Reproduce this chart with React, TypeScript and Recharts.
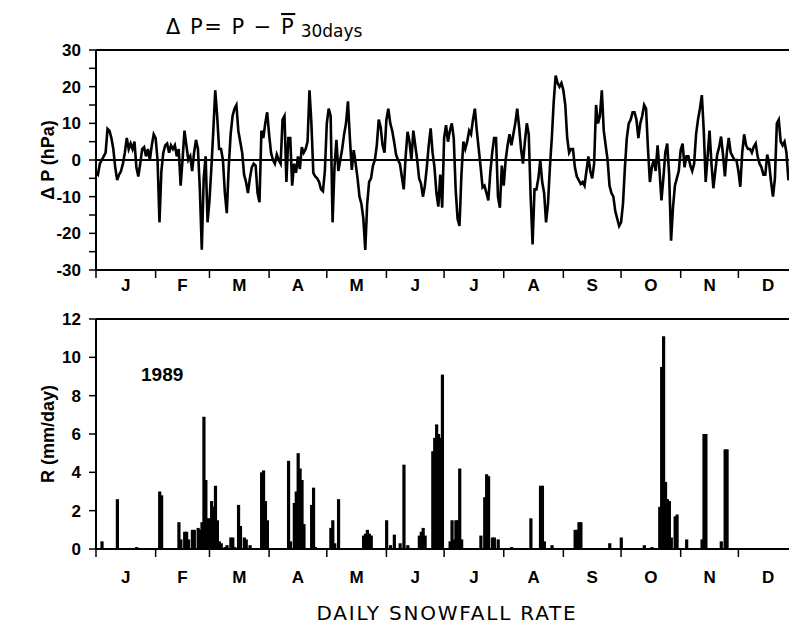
import { Bar, ComposedChart, Line, ReferenceLine, XAxis, YAxis } from "recharts";

// Calendar of 1989: first day (0-based) of each month, plus the year end
const MONTH_STARTS = [0, 31, 59, 90, 120, 151, 181, 212, 243, 273, 304, 334, 365];
const MONTH_LETTERS = ["J", "F", "M", "A", "M", "J", "J", "A", "S", "O", "N", "D"];
const MONTH_MIDS = MONTH_LETTERS.map((_, i) => (MONTH_STARTS[i] + MONTH_STARTS[i + 1]) / 2);
const MONTH_TICKS = [...MONTH_STARTS, ...MONTH_MIDS].sort((a, b) => a - b);

const DP_TICKS = [-30, -25, -20, -15, -10, -5, 0, 5, 10, 15, 20, 25, 30];
const RATE_TICKS = [0, 2, 4, 6, 8, 10, 12];

// Daily surface pressure anomaly from the 30-day running mean (hPa), from Jan 1
const DP = [
  -3.5, -4, -1, 0, 1, 2, 8.5, 8, 6, 3,
  -2, -5.5, -4, -3, -1, 2, 6, 3, 4.5, 3,
  5, -2, -4.5, -1, 3, 3.5, 1, 3, 0, 4,
  7, 6, 0, -17, -3, 2, 4, 4.5, 2, 4,
  3, 4, 1, 3, -7, 0, 8, 4, 0, 1,
  -3, 2, 5.5, 3, -8, -24.5, -5, 1, -17, -11,
  -2, 8, 19, 12, 3, 3, 0, -9, -14.5, -2,
  7, 12, 14, 15, 8, 5, 2, -4, -6, -9,
  -5, -2, -1, -1.5, -9, -11.5, 8, 6, 10, 13,
  7, 2, 0, -1, 1.5, 0, -1, 11, 12, -6,
  6, 6, -7, -1, -3.5, 1, -2.5, 3.5, 2, 3,
  5, 19, 10, -3.5, -4.5, -5, -6, -8, -8.5, -3,
  10, 14, 12, -17, -2, 5.5, -3, 0, 3, 7,
  10, 16, 6, -2.7, 2.7, -1, -5, -10, -12, -16,
  -24.5, -12, -6, -5, -1.5, 0, 4, 11, 9, 4,
  2, 11, 14, 10, 8, 5, 1.5, 0, -1, -4.5,
  -8, 1, 7.7, 5, 0, 8, 4, 0, -5, -6.5,
  -10, -7, -2, 4, 8.6, 2, -2, -9, -12.7, -4,
  -13, 6, 9.5, 5, 8, 10, 6, -8, -16, -18,
  -4, 5, 3, 5, 8, 7, 11, 14, 8, 3,
  -2, -7.5, -7, -9, -11, -3.5, 2, 6, 6, -10,
  -13, -1.5, -7, 0, 4, 7, 4, 7, 10, 14,
  9, 3, -1, 5, 10, 7, -10, -23, -8, -8,
  -5, 0, -6, -9, -17, -12, -2, 6, 16, 23,
  21, 20, 21, 19, 15, 6, 2, 3, 3, -2,
  -4.5, -5.5, -6.5, -6, -7, -3, 1, -3, -5, -1,
  15, 10, 12, 19, 8, 4, 0, -7, -9, -10,
  -14, -16, -18, -17, -12, -2, 6, 10, 11, 13,
  13, 11, 6, 10, 12, 15, 14, 3, -6, -2,
  0, -3, 4, -3, -11, -5, 2, 4.5, -4, -22,
  -13, -7, -5, -3, 2.7, 4.5, -2, 1, 1, -1.5,
  -3, -1, 7, 11, 14, 17.7, 8, -6, 1, 8,
  -1, -7.7, -3, 1.5, 3.5, 6.4, 1.5, -4.5, 2, 6,
  2, 1, 0, 0, -3, -7.3, 2, 7, 4, 3,
  3, 2, 3.6, 4.5, 1, -1, -2, -4, -4, 1.5,
  -1, -6, -10, -5, 10, 11, 5, 4, 5, 2,
  -5.5, -3,
];

// Days with snowfall (0-based day of year) and the rate on that day (mm/day)
const SNOW_DAYS = [
  3, 11, 21, 33, 34, 43, 44, 46, 47, 48, 50, 51, 53, 54, 55, 56, 57, 58, 59, 60,
  61, 62, 63, 64, 65, 67, 68, 70, 71, 72, 74, 75, 77, 78, 80, 86, 87, 88, 89, 100,
  101, 103, 104, 105, 106, 107, 108, 112, 113, 114, 122, 123, 124, 126, 139, 140, 141, 142, 143, 151,
  153, 155, 158, 160, 162, 168, 169, 170, 171, 175, 176, 177, 178, 179, 180, 184, 185, 186, 187, 188,
  189, 190, 200, 202, 203, 204, 206, 207, 209, 216, 226, 231, 232, 233, 237, 249, 250, 251, 252, 267,
  273, 285, 289, 293, 294, 295, 296, 297, 298, 299, 301, 302, 307, 315, 316, 317, 325, 327, 328,
];
const SNOW_RATES = [
  0.4, 2.6, 0.1, 3.0, 2.8, 1.4, 0.5, 0.9, 0.9, 0.5, 1.0, 1.0, 1.1, 1.0, 1.4, 6.9, 3.6, 1.6, 1.6, 2.5,
  2.2, 3.3, 1.5, 0.4, 0.3, 0.1, 0.2, 0.6, 0.6, 0.1, 2.3, 1.2, 0.6, 0.5, 0.2, 4.0, 4.1, 2.5, 1.5, 4.6,
  0.4, 2.4, 3.0, 5.0, 4.2, 3.6, 1.3, 2.3, 3.2, 0.1, 1.1, 1.5, 0.3, 2.6, 0.7, 0.8, 1.0, 0.8, 0.7, 1.5,
  0.2, 0.75, 0.3, 4.4, 0.2, 0.7, 0.9, 1.1, 0.7, 5.1, 5.8, 6.5, 6.0, 5.8, 9.1, 0.4, 1.5, 0.5, 1.5, 1.5,
  4.2, 0.5, 0.7, 2.7, 3.9, 3.8, 0.6, 0.6, 0.5, 0.1, 1.6, 3.3, 3.3, 0.4, 0.2, 1.0, 1.0, 1.4, 1.4, 0.3,
  0.6, 0.2, 0.1, 2.2, 9.5, 11.1, 3.5, 2.6, 2.5, 0.6, 1.7, 1.8, 0.5, 0.5, 6.0, 6.0, 0.4, 5.2, 5.2,
];

const dpData = DP.map((dp, day) => ({ day, dp }));
const snowData = SNOW_DAYS.map((day, i) => ({ day, rate: SNOW_RATES[i] }));

const FONT = "'Liberation Sans', Arial, sans-serif";
const THIN_FONT = "'DejaVu Sans', 'Noto Sans', sans-serif";
const tickStyle = { fill: "#000", fontSize: 17, fontWeight: 700, fontFamily: FONT };
const axisStroke = { stroke: "#000", strokeWidth: 2 };

// Month axis: short ticks on month boundaries, letters centred in each month
function MonthTick({ x, y, payload, gap }: any) {
  const i = MONTH_MIDS.indexOf(payload.value);
  if (i >= 0) {
    return (
      <text x={x} y={y + gap} textAnchor="middle" {...tickStyle}>
        {MONTH_LETTERS[i]}
      </text>
    );
  }
  return <line x1={x} x2={x} y1={y} y2={y + 8} stroke="#000" strokeWidth={1.5} />;
}

// Snowfall bars are a little wider than one day's slot
function SnowBar({ x, y, width, height }: any) {
  if (!height || height <= 0) return null;
  return <rect x={x + width / 2 - 1.6} y={y} width={3.2} height={height} fill="#000" />;
}

function PressurePanel() {
  return (
    <ComposedChart width={800} height={300} data={dpData} margin={{ top: 50, right: 2, bottom: 0, left: 0 }}>
      <XAxis
        dataKey="day"
        type="number"
        domain={[0, 365]}
        ticks={MONTH_TICKS}
        interval={0}
        height={30}
        tickLine={false}
        tickSize={0}
        tickMargin={0}
        axisLine={axisStroke}
        tick={(p: any) => <MonthTick {...p} gap={21} />}
      />
      <YAxis
        type="number"
        domain={[-30, 30]}
        ticks={DP_TICKS}
        interval={0}
        width={96}
        tickSize={7}
        tickMargin={8}
        axisLine={axisStroke}
        tickLine={{ stroke: "#000", strokeWidth: 1.5 }}
        tick={tickStyle}
        tickFormatter={(v: number) => (v % 10 === 0 ? String(v) : "")}
      />
      <ReferenceLine y={30} stroke="#000" strokeWidth={2} />
      <ReferenceLine x={365} stroke="#000" strokeWidth={2} />
      <ReferenceLine y={0} stroke="#000" strokeWidth={2} />
      <Line
        dataKey="dp"
        type="linear"
        stroke="#000"
        strokeWidth={2.6}
        dot={false}
        isAnimationActive={false}
      />
    </ComposedChart>
  );
}

function SnowPanel() {
  return (
    <ComposedChart width={800} height={290} data={snowData} margin={{ top: 19, right: 2, bottom: 0, left: 0 }}>
      <XAxis
        dataKey="day"
        type="number"
        domain={[0, 365]}
        ticks={MONTH_TICKS}
        interval={0}
        height={41}
        tickLine={false}
        tickSize={0}
        tickMargin={0}
        axisLine={axisStroke}
        tick={(p: any) => <MonthTick {...p} gap={34} />}
      />
      <YAxis
        type="number"
        domain={[0, 12]}
        ticks={RATE_TICKS}
        interval={0}
        width={96}
        tickSize={7}
        tickMargin={8}
        axisLine={axisStroke}
        tickLine={{ stroke: "#000", strokeWidth: 1.5 }}
        tick={tickStyle}
      />
      <ReferenceLine y={12} stroke="#000" strokeWidth={2} />
      <ReferenceLine x={365} stroke="#000" strokeWidth={2} />
      <Bar dataKey="rate" fill="#000" shape={<SnowBar />} isAnimationActive={false} />
    </ComposedChart>
  );
}

export default function App() {
  return (
    <div
      style={{
        position: "fixed",
        left: 0,
        top: 0,
        width: 789,
        height: 634,
        overflow: "hidden",
        background: "#fff",
      }}
    >
      <div style={{ position: "absolute", left: 0, top: 0 }}>
        <PressurePanel />
      </div>
      <div style={{ position: "absolute", left: 0, top: 300 }}>
        <SnowPanel />
      </div>
      <svg width={789} height={634} style={{ position: "absolute", left: 0, top: 0, pointerEvents: "none" }}>
        <text x={166} y={34} fontFamily={THIN_FONT} fontSize={21} letterSpacing={1.5} fill="#000">
          {"Δ P= P − "}
          <tspan style={{ textDecoration: "overline" }}>P</tspan>
          <tspan fontSize={17} letterSpacing={0} dy={3}>
            {" 30days"}
          </tspan>
        </text>
        <text
          transform="rotate(-90)"
          x={-160}
          y={54}
          textAnchor="middle"
          fontFamily={FONT}
          fontWeight={700}
          fontSize={18}
          fill="#000"
        >
          Δ P (hPa)
        </text>
        <text
          transform="rotate(-90)"
          x={-434}
          y={54}
          textAnchor="middle"
          fontFamily={FONT}
          fontWeight={700}
          fontSize={18}
          fill="#000"
        >
          R (mm/day)
        </text>
        <text x={141} y={381} fontFamily={FONT} fontWeight={700} fontSize={19} fill="#000">
          1989
        </text>
        <text
          x={447}
          y={620}
          textAnchor="middle"
          fontFamily={THIN_FONT}
          fontSize={20}
          letterSpacing={1.8}
          fill="#000"
        >
          DAILY SNOWFALL RATE
        </text>
      </svg>
    </div>
  );
}
